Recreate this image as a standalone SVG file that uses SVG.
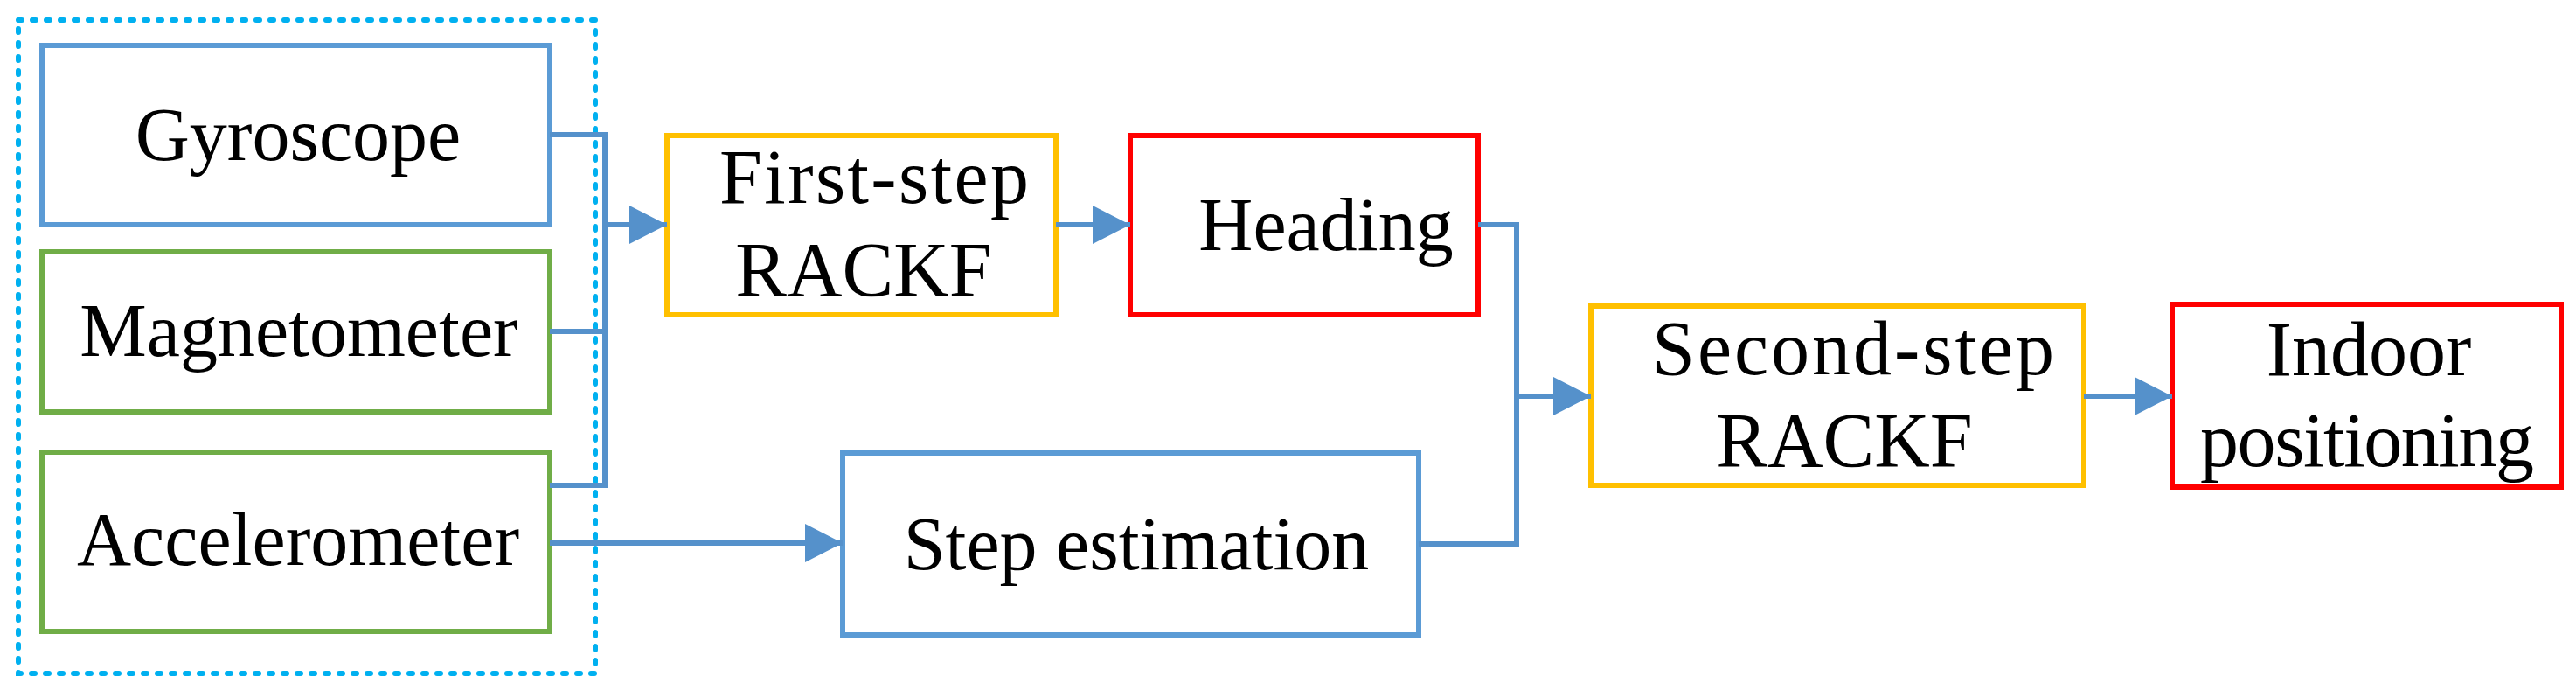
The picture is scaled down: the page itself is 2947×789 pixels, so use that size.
<svg xmlns="http://www.w3.org/2000/svg" width="2947" height="789" viewBox="0 0 2947 789">
<style>
.box{fill:#FFFFFF;stroke-width:6;stroke-linejoin:miter}
.blue{stroke:#5B9BD5}
.green{stroke:#70AD47}
.gold{stroke:#FFC000}
.red{stroke:#FF0000}
.grp{fill:none;stroke:#00B0F0;stroke-width:6;stroke-dasharray:4 12;stroke-linecap:round}
.lbl{font-family:"Liberation Serif","Times New Roman",serif;font-size:86px;fill:#000000;text-anchor:middle}
.big{font-size:88px}
.conn{fill:none;stroke:#5591CB;stroke-width:6}
</style>
<defs>
<marker id="arr" markerUnits="userSpaceOnUse" markerWidth="44" markerHeight="44" refX="43" refY="22" orient="auto" viewBox="0 0 44 44">
<path d="M0,0 L43,22 L0,44 Z" fill="#5591CB"/>
</marker>
</defs>
<rect x="0" y="0" width="2947" height="789" fill="#FFFFFF"/>
<g id="sensors-group">
<rect class="grp" x="21" y="23" width="660" height="747"/>
</g>
<g id="gyroscope">
<rect class="box blue" x="48" y="52" width="581" height="205"/>
<text class="lbl" x="341" y="183">Gyroscope</text>
</g>
<g id="magnetometer">
<rect class="box green" x="48" y="288" width="581" height="183"/>
<text class="lbl" x="342" y="407">Magnetometer</text>
</g>
<g id="accelerometer">
<rect class="box green" x="48" y="517" width="581" height="205"/>
<text class="lbl" x="341" y="646">Accelerometer</text>
</g>
<g id="first-step">
<rect class="box gold" x="763" y="155" width="445" height="205"/>
<text class="lbl big" x="1000" y="232" textLength="354" lengthAdjust="spacing">First-step</text>
<text class="lbl big" x="988" y="338">RACKF</text>
</g>
<g id="heading">
<rect class="box red" x="1293" y="155" width="398" height="205"/>
<text class="lbl" x="1517" y="286">Heading</text>
</g>
<g id="step-estimation">
<rect class="box blue" x="964" y="518" width="659" height="208"/>
<text class="lbl" x="1300" y="651">Step estimation</text>
</g>
<g id="second-step">
<rect class="box gold" x="1820" y="350" width="564" height="205"/>
<text class="lbl big" x="2120" y="428" textLength="460" lengthAdjust="spacing">Second-step</text>
<text class="lbl big" x="2110" y="533">RACKF</text>
</g>
<g id="indoor-positioning">
<rect class="box red" x="2485" y="348" width="445" height="209"/>
<text class="lbl big" x="2710" y="429">Indoor</text>
<text class="lbl big" x="2708" y="533" textLength="382" lengthAdjust="spacing">positioning</text>
</g>
<g id="connectors">
<path class="conn" d="M629,154 H692 V555 H629"/>
<path class="conn" d="M629,379 H692"/>
<path class="conn" d="M692,257 H763" marker-end="url(#arr)"/>
<path class="conn" d="M629,621 H964" marker-end="url(#arr)"/>
<path class="conn" d="M1208,257 H1293" marker-end="url(#arr)"/>
<path class="conn" d="M1691,257 H1735 V622 H1623"/>
<path class="conn" d="M1735,453 H1820" marker-end="url(#arr)"/>
<path class="conn" d="M2384,453 H2485" marker-end="url(#arr)"/>
</g>
</svg>
